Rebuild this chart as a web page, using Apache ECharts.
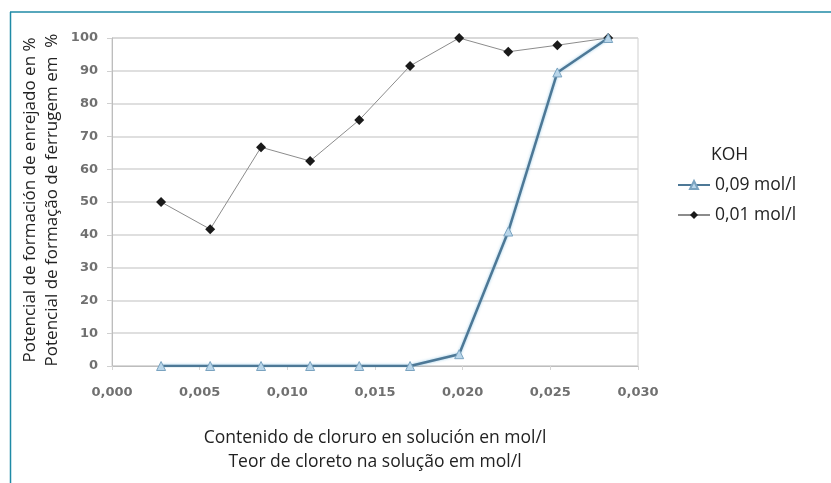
<!DOCTYPE html>
<html>
<head>
<meta charset="utf-8">
<script src="https://cdn.jsdelivr.net/npm/echarts@6/dist/echarts.min.js"></script>
<style>
  html, body { margin: 0; padding: 0; background: #fff; }
  #chart { width: 831px; height: 483px; }
</style>
</head>
<body>
<div id="chart"></div>
<script>
// chloride content in mol/l
const chloride = [0.0028, 0.0056, 0.0085, 0.0113, 0.0141, 0.0170, 0.0198, 0.0226, 0.0254, 0.0283]
const koh009 = [0, 0, 0, 0, 0, 0, 3.6, 41, 89.5, 100]
const koh001 = [50, 41.7, 66.7, 62.5, 75, 91.5, 100, 95.8, 97.8, 100]
const seriesNames = ['0,09 mol/l', '0,01 mol/l']
const yTitle = ['Potencial de formación de enrejado en %', 'Potencial de formação de ferrugem em  %']
const xTitle = ['Contenido de cloruro en solución en mol/l', 'Teor de cloreto na solução em mol/l']

const textFont = '"Open Sans", "Noto Sans", sans-serif'
const tickFont = '"DejaVu Sans", Verdana, sans-serif'

const chart = echarts.init(document.getElementById('chart'))

chart.setOption({
  animation: false,
  grid: {
    left: 112, right: 193, top: 38, bottom: 117,
    show: true, borderColor: '#cfcfcf', borderWidth: 1
  },
  xAxis: {
    type: 'value',
    min: 0, max: 0.03, interval: 0.005,
    axisLine: { show: true, lineStyle: { color: '#bdbdbd' } },
    axisTick: { show: true, length: 4, lineStyle: { color: '#d5d5d5' } },
    splitLine: { show: false },
    axisLabel: {
      margin: 20, color: '#707070', fontWeight: 'bold', fontSize: 13, fontFamily: tickFont,
      formatter: (v) => v.toFixed(3).replace('.', ',')
    }
  },
  yAxis: {
    type: 'value',
    min: 0, max: 100, interval: 10,
    axisLine: { show: true, lineStyle: { color: '#bdbdbd' } },
    axisTick: { show: true, length: 5, lineStyle: { color: '#d0d0d0' } },
    splitLine: { lineStyle: { color: '#d4d4d4', width: 1.5 } },
    axisLabel: { margin: 14, color: '#707070', fontWeight: 'bold', fontSize: 13, fontFamily: tickFont }
  },
  legend: {
    orient: 'vertical',
    left: 672, top: 171,
    itemGap: 12,
    itemWidth: 32, itemHeight: 10,
    textStyle: { fontFamily: textFont, fontSize: 17.5, color: '#222' },
    data: seriesNames
  },
  series: [
    {
      name: seriesNames[0],
      type: 'line',
      data: chloride.map((x, i) => [x, koh009[i]]),
      symbol: 'triangle', symbolSize: 9,
      lineStyle: { color: '#4d7896', width: 2.5, shadowColor: 'rgba(130,190,225,0.8)', shadowBlur: 3 },
      itemStyle: { color: '#b9d6ea', borderColor: '#7aa3c0', borderWidth: 1 },
      z: 3
    },
    {
      name: seriesNames[1],
      type: 'line',
      data: chloride.map((x, i) => [x, koh001[i]]),
      symbol: 'diamond', symbolSize: 10,
      lineStyle: { color: '#8c8c8c', width: 1 },
      itemStyle: { color: '#1a1a1a' },
      z: 2
    }
  ],
  graphic: [
    { type: 'line', shape: { x1: 10, y1: 12, x2: 831, y2: 12 }, style: { stroke: '#1f8aa6', lineWidth: 1.5 } },
    { type: 'line', shape: { x1: 10.5, y1: 12, x2: 10.5, y2: 483 }, style: { stroke: '#1f8aa6', lineWidth: 1.5 } },
    {
      type: 'text', x: 30, y: 200, rotation: Math.PI / 2,
      style: { text: yTitle[0], font: '17px ' + textFont, fill: '#222', textAlign: 'center', textVerticalAlign: 'middle' }
    },
    {
      type: 'text', x: 52, y: 200, rotation: Math.PI / 2,
      style: { text: yTitle[1], font: '17px ' + textFont, fill: '#222', textAlign: 'center', textVerticalAlign: 'middle' }
    },
    {
      type: 'text', x: 375, y: 438,
      style: { text: xTitle[0], font: '17.5px ' + textFont, fill: '#222', textAlign: 'center', textVerticalAlign: 'middle' }
    },
    {
      type: 'text', x: 375, y: 462,
      style: { text: xTitle[1], font: '17.5px ' + textFont, fill: '#222', textAlign: 'center', textVerticalAlign: 'middle' }
    },
    {
      type: 'text', x: 711, y: 155,
      style: { text: 'KOH', font: '17.5px ' + textFont, fill: '#222', textAlign: 'left', textVerticalAlign: 'middle' }
    }
  ]
})
</script>
</body>
</html>
